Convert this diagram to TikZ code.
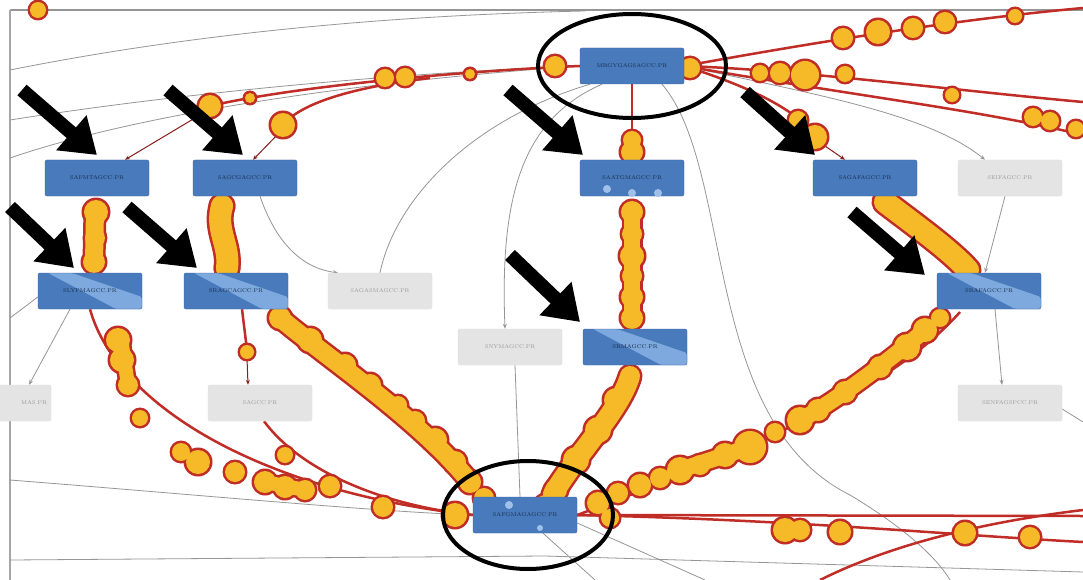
\documentclass[tikz,border=0pt]{standalone}
\usepackage{tikz}
\usetikzlibrary{arrows.meta, positioning, calc}
\definecolor{nodeblue}{RGB}{72,122,188}
\definecolor{nodeborder}{RGB}{58,100,162}
\definecolor{streakblue}{RGB}{135,178,228}
\definecolor{greybox}{RGB}{228,228,228}
\definecolor{linkred}{RGB}{192,44,38}
\definecolor{beadyellow}{RGB}{246,186,40}
\definecolor{edgegrey}{RGB}{150,150,150}
\pgfdeclarelayer{links}
\pgfsetlayers{links,main}
\tikzset{
  gene/.style     = {rectangle, rounded corners=2pt, fill=nodeblue, draw=nodeborder,
                     minimum width=104pt, minimum height=36pt, inner sep=1pt,
                     font=\fontsize{5.5}{6}\selectfont, text=nodeborder!45!black},
  greygene/.style = {gene, fill=greybox, draw=gray!25, text=gray!80},
  streaked/.style = {path picture={
                     \fill[streakblue, opacity=0.85]
                       ($(path picture bounding box.north west)+(10pt,0)$) --
                       ($(path picture bounding box.north west)+(34pt,0)$) --
                       ($(path picture bounding box.south east)+(0,12pt)$) --
                       (path picture bounding box.south east) --
                       ($(path picture bounding box.south east)+(-26pt,0)$) -- cycle;}},
  edge/.style     = {draw=edgegrey, line width=0.8pt},
  edgearrow/.style= {edge, -{Stealth[length=5pt, width=4pt]}},
  redlink/.style  = {draw=linkred, line width=2.5pt},
  redarrow/.style = {draw=linkred!70!black, line width=1pt, -{Stealth[length=5pt, width=4pt]}},
  pointer/.style  = {line width=14pt, -{Triangle[length=34pt, width=44pt]}},
  ring/.style     = {line width=4pt},
  dot/.style      = {fill=streakblue!80!white},
}
% beads and tubes of the red links, drawn twice: halo, then fill
\newcommand{\beadlayer}[2]{%
  \foreach \bx/\by/\br in {38/10/8,
      555/66/10, 470/74/5, 405/77/9, 385/78/9, 250/98/5, 210/106/11, 283/125/12,
      690/68/10, 760/73/8, 780/73/10, 805/75/14, 845/74/8, 952/95/7,
      1033/117/9, 1050/121/9, 1076/129/8,
      843/38/10, 878/32/12, 913/28/10, 945/22/10, 1015/16/7,
      798/120/9, 815/137/12,
      96/212/12, 94/262/11, 95/238/10, 222/206/11, 227/268/11,
      632/140/9, 632/152/11,
      632/212/11, 632/234/10, 632/256/12, 632/276/10, 632/297/11, 632/318/11,
      630/376/9, 616/400/12, 598/430/13, 576/460/13, 556/490/11, 545/505/10,
      280/318/11, 310/340/12, 345/365/11, 370/385/11, 398/405/9, 415/421/10,
      435/440/12, 455/462/11, 470/482/11, 484/498/10,
      885/202/10, 968/270/10,
      940/318/9, 925/330/12, 907/347/13, 880/367/11, 845/392/11, 818/410/11,
      800/420/13, 775/432/9, 750/447/16, 725/455/12, 700/465/10, 680/470/13,
      660/478/10, 640/485/11, 618/493/10, 598/503/11, 610/518/9,
      118/340/12, 122/360/12, 128/385/10, 140/418/8, 181/452/9, 198/462/12,
      235/472/10, 265/482/11, 285/487/11, 305/490/10, 383/507/10, 455/515/12,
      285/455/8, 330/486/10, 247/352/7,
      785/530/12, 800/530/10, 840/532/11, 965/533/11, 1030/537/10}
    {\fill[#1] (\bx,\by) circle ({(\br+#2)*1pt});}
  \draw[#1, line width={18pt+2*#2pt}, line cap=round] (95,210) -- (94,262);
  \draw[#1, line width={22pt+2*#2pt}, line cap=round]
    (222,206) .. controls (215,230) and (230,245) .. (227,268);
  \draw[#1, line width={16pt+2*#2pt}, line cap=round] (632,212) -- (632,318);
  \draw[#1, line width={20pt+2*#2pt}, line cap=round]
    (630,376) .. controls (620,410) and (580,450) .. (553,494);
  \draw[#1, line width={18pt+2*#2pt}, line cap=round]
    (280,318) .. controls (330,360) and (420,420) .. (470,482);
  \draw[#1, line width={22pt+2*#2pt}, line cap=round]
    (885,202) .. controls (915,225) and (950,250) .. (968,270);
  \draw[#1, line width={16pt+2*#2pt}, line cap=round]
    (925,330) .. controls (890,360) and (830,405) .. (800,420);
  \draw[#1, line width={16pt+2*#2pt}, line cap=round] (750,447) -- (680,470);
  \draw[#1, line width={14pt+2*#2pt}, line cap=round] (122,345) -- (128,385);
  \draw[#1, line width={14pt+2*#2pt}, line cap=round] (265,482) -- (305,490);
}

\begin{document}
\begin{tikzpicture}[x=1pt, y=-1pt]
  \useasboundingbox (0,0) rectangle (1083,580);
  \clip (0,0) rectangle (1083,580);

  % genes
  \node[gene]            (hubtop) at (632,66)  {MRGYGAGSAGCC.PR};
  \node[gene]            (la)     at (97,178)  {SAFMTAGCC.PR};
  \node[gene]            (lb)     at (245,178) {SAGCGAGCC.PR};
  \node[gene]            (mc)     at (632,178) {SAATGMAGCC.PR};
  \node[gene]            (rd)     at (865,178) {SAGAFAGCC.PR};
  \node[greygene]        (re)     at (1010,178){SEIFAGCC.PR};
  \node[gene, streaked]  (lf)     at (90,291)  {SLYPMAGCC.PR};
  \node[gene, streaked]  (lg)     at (236,291) {SRAGCAGCC.PR};
  \node[greygene]        (gh)     at (380,291) {SAGASMAGCC.PR};
  \node[greygene]        (gi)     at (510,347) {SNYMAGCC.PR};
  \node[gene, streaked]  (mj)     at (635,347) {SRMAGCC.PR};
  \node[gene, streaked]  (rk)     at (989,291) {SRAFAGCC.PR};
  \node[greygene, text width=96pt, align=right]
                         (gl)     at (-1,403)  {MAS.PR};
  \node[greygene]        (gm)     at (260,403) {SAGCC.PR};
  \node[greygene]        (gn)     at (1010,403){SENFAGSPCC.PR};
  \node[gene]            (hubbot) at (525,515) {SAFGMAGAGCC.PR};

  \fill[dot] (607,189) circle (4pt) (632,193) circle (4pt) (658,193) circle (4pt);
  \fill[dot] (509,505) circle (4pt) (540,528) circle (3pt);

  \begin{pgfonlayer}{links}
  \fill[white] (0,0) rectangle (1083,580);
  % frame
  \draw[edgegrey, line width=2.5pt] (10,10) -- (1083,10);
  \draw[gray!70, line width=1.2pt] (10,10) -- (10,580);

  % grey links
  \draw[edge] (10,70) .. controls (200,32) and (400,15) .. (585,11);
  \draw[edge] (10,120) .. controls (200,90) and (420,72) .. (hubtop.west);
  \draw[edge] (10,158) .. controls (150,110) and (380,80) .. (hubtop.west);
  \draw[edgearrow] ([xshift=-30pt]hubtop.south) .. controls (520,120) and (500,200) .. ([xshift=-5pt]gi.north);
  \draw[edge] (gh.north) .. controls (395,200) and (470,120) .. ([xshift=-42pt]hubtop.south);
  \draw[edge] ([xshift=30pt]hubtop.south) .. controls (735,170) and (700,420) .. (850,495)
              .. controls (900,525) and (935,555) .. (950,580);
  \draw[edgearrow] (hubtop.east) .. controls (820,95) and (930,115) .. ([xshift=-25pt]re.north);
  \draw[edgearrow] ([xshift=-5pt]re.south) -- ([xshift=-4pt]rk.north);
  \draw[edgearrow] ([xshift=6pt]rk.south) -- ([xshift=-8pt]gn.north);
  \draw[edge] ([yshift=-6pt]gn.east) -- (1083,422);
  \draw[edgearrow] ([xshift=15pt]lb.south) .. controls (275,240) and (300,268) .. ([xshift=-42pt]gh.north);
  \draw[edgearrow] ([xshift=-20pt]lf.south) -- ([xshift=30pt]gl.north);
  \draw[edge] ([yshift=-6pt]lf.west) -- (10,318);
  \draw[edge] ([xshift=5pt]gi.south) -- ([xshift=-5pt]hubbot.north);
  \draw[edge] (10,480) .. controls (200,495) and (380,512) .. (hubbot.west);
  \draw[edge] ([xshift=18pt]hubbot.south) -- (595,580);
  \draw[edge] ([yshift=-8pt]hubbot.east) -- (705,580);
  \draw[edge] (10,560) -- (545,556) -- (1083,572);

  % red links
  \draw[redlink] (hubtop.west) .. controls (480,70) and (300,85) .. (210,106);
  \draw[redlink] (430,78) .. controls (330,90) and (295,110) .. (283,125);
  \draw[redarrow] (205,112) -- ([xshift=28pt]la.north);
  \draw[redarrow] (280,132) -- ([xshift=8pt]lb.north);
  \draw[redlink] (hubtop.south) -- (mc.north);
  \draw[redlink] (hubtop.east) .. controls (800,45) and (950,20) .. (1083,8);
  \draw[redlink] (hubtop.east) .. controls (800,70) and (950,90) .. (1083,102);
  \draw[redlink] (hubtop.east) .. controls (850,95) and (980,110) .. (1083,135);
  \draw[redlink] (hubtop.east) .. controls (760,90) and (805,115) .. (822,145);
  \draw[redarrow] (825,146) -- ([xshift=-20pt]rd.north);
  \draw[redlink] (lf.south) .. controls (115,400) and (250,490) .. (hubbot.west);
  \draw[redlink] ([xshift=4pt]gm.south) .. controls (300,470) and (380,505) .. (hubbot.west);
  \draw[redlink] ([xshift=6pt]lg.south) -- (247,350);
  \draw[redarrow] (247,358) -- ([xshift=-12pt]gm.north);
  \draw[redlink] (960,312) .. controls (900,380) and (780,440) .. (hubbot.east);
  \draw[redlink] (hubbot.east) -- (1083,516);
  \draw[redlink] (hubbot.east) .. controls (800,520) and (950,535) .. (1083,542);
  \draw[redlink] (820,580) .. controls (900,540) and (1000,520) .. (1083,510);

  \beadlayer{linkred}{2.5}
  \beadlayer{beadyellow}{0}
  \end{pgfonlayer}

  % rings round the two hubs
  \draw[ring] (hubtop) ellipse [x radius=94pt, y radius=52pt];
  \draw[ring] (528,515) ellipse [x radius=85pt, y radius=54pt];

  % pointers
  \foreach \tx/\ty/\hx/\hy in {22/90/97/155, 168/90/243/155, 508/90/583/155,
      745/92/815/155, 10/207/74/268, 127/207/197/268, 510/255/580/322, 852/212/925/275}
    \draw[pointer] (\tx,\ty) -- (\hx,\hy);
\end{tikzpicture}
\end{document}
